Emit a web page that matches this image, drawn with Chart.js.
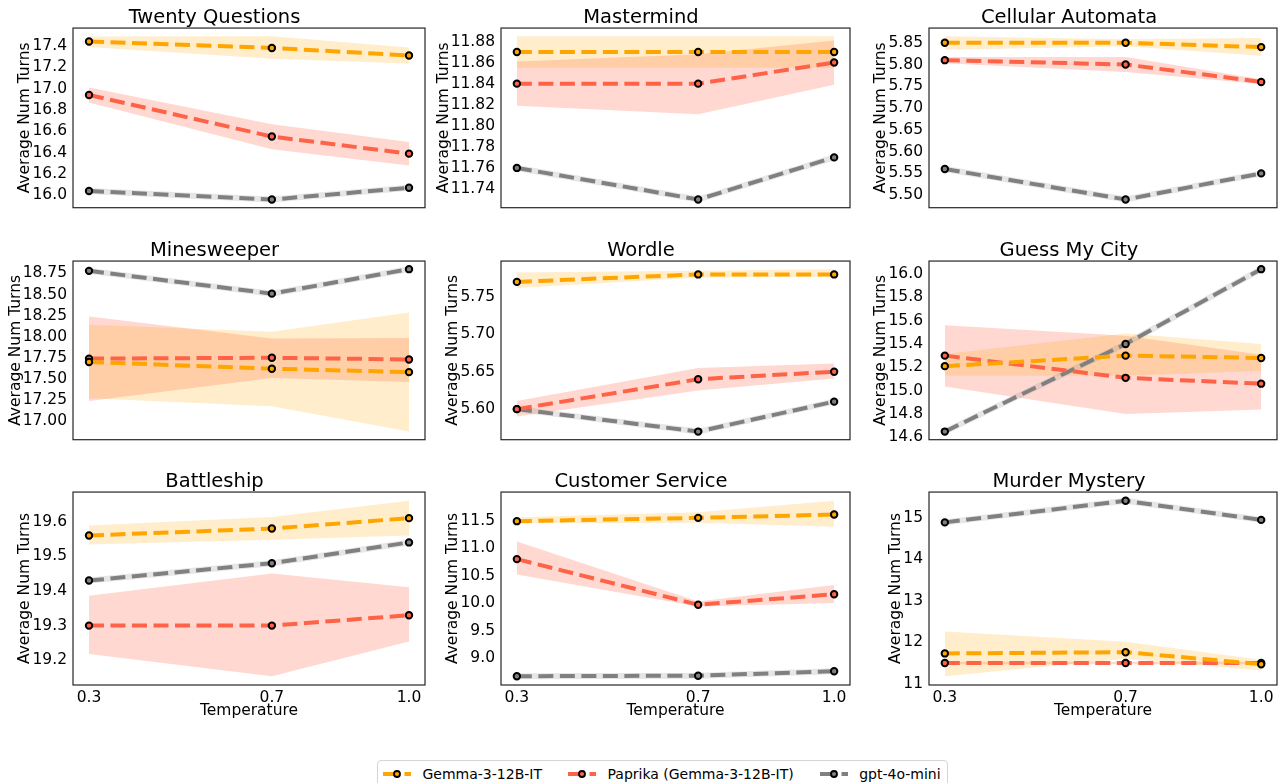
<!DOCTYPE html>
<html>
<head>
<meta charset="utf-8">
<script src="https://cdn.jsdelivr.net/npm/chart.js@4.4.1/dist/chart.umd.min.js"></script>
<style>
  body { margin: 0; background: #fff; width: 1283px; height: 783px; position: relative; overflow: hidden; font-family: "DejaVu Sans", sans-serif; }
  canvas { position: absolute; }
  #legend { position: absolute; left: 377px; top: 760px; height: 25px; border: 1px solid #d4d4d4; border-radius: 4px;
            padding: 0 6px 0 5px; display: flex; align-items: center; font-size: 14px; color: #000; background: #fff; }
  .item { display: flex; align-items: center; margin-right: 26px; }
  .item:last-child { margin-right: 0; }
  .item svg { margin-right: 11.5px; }
</style>
</head>
<body>
<div id="legend"></div>
<script>
// x values shared by every panel
const temperatures = [0.3, 0.7, 1.0];

const games = ['Twenty Questions', 'Mastermind', 'Cellular Automata',
               'Minesweeper', 'Wordle', 'Guess My City',
               'Battleship', 'Customer Service', 'Murder Mystery'];

// Gemma-3-12B-IT
const gemmaMean = [
    [17.44, 17.38, 17.31], [11.87, 11.87, 11.87], [5.85, 5.85, 5.84],
    [17.70, 17.62, 17.58], [5.77, 5.78, 5.78], [15.21, 15.30, 15.28],
    [19.56, 19.58, 19.61], [11.49, 11.55, 11.61], [11.73, 11.76, 11.47]
];
const gemmaLo = [
    [17.39, 17.28, 17.235], [11.855, 11.855, 11.855], [5.834, 5.842, 5.820],
    [17.27, 17.175, 16.875], [5.762, 5.776, 5.777], [15.128, 15.128, 15.168],
    [19.534, 19.548, 19.56], [11.45, 11.46, 11.39], [11.18, 11.60, 11.32]
];
const gemmaHi = [
    [17.487, 17.49, 17.385], [11.885, 11.885, 11.885], [5.865, 5.858, 5.861],
    [18.14, 18.057, 18.287], [5.7825, 5.785, 5.787], [15.313, 15.49, 15.40],
    [19.589, 19.613, 19.66], [11.56, 11.65, 11.86], [12.26, 12.01, 11.58]
];

// Paprika (Gemma-3-12B-IT)
const paprikaMean = [
    [16.94, 16.55, 16.39], [11.84, 11.84, 11.86], [5.81, 5.80, 5.76],
    [17.74, 17.75, 17.73], [5.60, 5.64, 5.65], [15.30, 15.11, 15.06],
    [19.30, 19.30, 19.33], [10.80, 9.97, 10.16], [11.50, 11.50, 11.50]
];
const paprikaLo = [
    [16.87, 16.43, 16.28], [11.819, 11.811, 11.839], [5.803, 5.783, 5.755],
    [17.237, 17.51, 17.463], [5.59, 5.625, 5.641], [15.036, 14.80, 14.84],
    [19.218, 19.154, 19.254], [10.52, 9.94, 10.00], [11.47, 11.47, 11.47]
];
const paprikaHi = [
    [17.01, 16.665, 16.50], [11.861, 11.868, 11.881], [5.817, 5.817, 5.766],
    [18.24, 17.977, 17.984], [5.611, 5.655, 5.661], [15.559, 15.47, 15.308],
    [19.386, 19.45, 19.411], [11.12, 10.03, 10.33], [11.53, 11.53, 11.53]
];

// gpt-4o-mini
const gptMean = [
    [16.04, 15.96, 16.07], [11.76, 11.73, 11.77], [5.56, 5.49, 5.55],
    [18.78, 18.51, 18.80], [5.60, 5.57, 5.61], [14.65, 15.40, 16.04],
    [19.43, 19.48, 19.54], [8.67, 8.68, 8.76], [14.89, 15.41, 14.95]
];

const yTickLabels = [
    ['16.0', '16.2', '16.4', '16.6', '16.8', '17.0', '17.2', '17.4'],
    ['11.74', '11.76', '11.78', '11.80', '11.82', '11.84', '11.86', '11.88'],
    ['5.50', '5.55', '5.60', '5.65', '5.70', '5.75', '5.80', '5.85'],
    ['17.00', '17.25', '17.50', '17.75', '18.00', '18.25', '18.50', '18.75'],
    ['5.60', '5.65', '5.70', '5.75'],
    ['14.6', '14.8', '15.0', '15.2', '15.4', '15.6', '15.8', '16.0'],
    ['19.2', '19.3', '19.4', '19.5', '19.6'],
    ['9.0', '9.5', '10.0', '10.5', '11.0', '11.5'],
    ['11', '12', '13', '14', '15']
];

const seriesNames = ['Gemma-3-12B-IT', 'Paprika (Gemma-3-12B-IT)', 'gpt-4o-mini'];
const FONT = 'DejaVu Sans';
const ORANGE = '#ffa500', RED = '#ff6347', GRAY = '#808080';
const DASH = [15, 6.5];

// canvas placement: [left, width, right padding] per column, [top, height, bottom padding] per row
const cols = [[0, 431, 2], [428, 428, 2], [856, 427, 1]];
const rows = [[0, 223, 2], [233, 222, 2], [464, 261, 0]];

const framePlugin = {
    id: 'frame',
    afterDatasetsDraw(chart) {
        const { ctx, chartArea: a } = chart;
        ctx.save();
        ctx.strokeStyle = '#262626';
        ctx.lineWidth = 1.2;
        ctx.strokeRect(a.left, a.top, a.width, a.height);
        ctx.restore();
    }
};

// y label placed just left of the widest tick label, like matplotlib
const yTitlePlugin = {
    id: 'ytitle',
    afterDraw(chart) {
        const { ctx, chartArea: a } = chart;
        const labels = chart.scales.y.ticks.map(t => t.label);
        ctx.save();
        ctx.font = '15.5px "' + FONT + '"';
        const w = Math.max(...labels.map(l => ctx.measureText(l).width));
        const x = a.left - 6 - w - 3;
        ctx.translate(x, (a.top + a.bottom) / 2);
        ctx.rotate(-Math.PI / 2);
        ctx.fillStyle = '#000';
        ctx.textAlign = 'center';
        ctx.textBaseline = 'alphabetic';
        ctx.fillText('Average Num Turns', 0, 0);
        ctx.restore();
    }
};

function meanLine(data, color, order) {
    return {
        data: data, borderColor: color, borderWidth: 4, borderDash: DASH, borderCapStyle: 'butt',
        pointRadius: 3.2, pointBorderWidth: 2, pointBorderColor: '#000', pointBackgroundColor: color,
        fill: false, order: order
    };
}

function band(lo, hi, colour, loIndex) {
    return [
        { data: lo, borderWidth: 0, pointRadius: 0, fill: false, order: 5 },
        { data: hi, borderWidth: 0, pointRadius: 0, fill: { target: loIndex }, backgroundColor: colour, order: 5 }
    ];
}

function xy(vals) {
    return vals.map((v, k) => ({ x: temperatures[k], y: v }));
}

games.forEach((game, i) => {
    const r = Math.floor(i / 3), c = i % 3;
    const canvas = document.createElement('canvas');
    canvas.width = cols[c][1];
    canvas.height = rows[r][1];
    canvas.style.left = cols[c][0] + 'px';
    canvas.style.top = rows[r][0] + 'px';
    document.body.appendChild(canvas);

    const all = [].concat(gemmaLo[i], gemmaHi[i], paprikaLo[i], paprikaHi[i], gemmaMean[i], paprikaMean[i], gptMean[i]);
    const lo = Math.min(...all), hi = Math.max(...all);
    const pad = (hi - lo) * 0.05;
    const bottomRow = r === 2;

    const datasets = [
        meanLine(xy(gemmaMean[i]), ORANGE, 0),
        meanLine(xy(paprikaMean[i]), RED, 0),
        meanLine(xy(gptMean[i]), GRAY, 0),
        { data: xy(gptMean[i]), borderColor: 'rgba(128,128,128,0.2)', borderWidth: 6, pointRadius: 0, fill: false, order: 1 }
    ];
    datasets.push(...band(xy(gemmaLo[i]), xy(gemmaHi[i]), 'rgba(255,165,0,0.2)', 4));
    datasets.push(...band(xy(paprikaLo[i]), xy(paprikaHi[i]), 'rgba(255,99,71,0.25)', 6));

    new Chart(canvas, {
        type: 'line',
        data: { datasets: datasets },
        options: {
            responsive: false,
            animation: false,
            devicePixelRatio: 1,
            layout: { padding: { left: 0, top: 0, right: cols[c][2], bottom: rows[r][2] } },
            plugins: {
                legend: { display: false },
                tooltip: { enabled: false },
                title: {
                    display: true, text: game, color: '#000',
                    font: { family: FONT, size: 19.5, weight: 'normal', lineHeight: 0.9 },
                    padding: { top: 9.5, bottom: 1 }
                }
            },
            elements: { line: { tension: 0 } },
            scales: {
                x: {
                    type: 'linear',
                    display: bottomRow,
                    min: 0.265, max: 1.035,
                    afterBuildTicks: s => { s.ticks = temperatures.map(v => ({ value: v })); },
                    afterFit: s => { if (bottomRow) s.height = 40; },
                    grid: { display: false, drawTicks: false },
                    border: { display: false },
                    ticks: {
                        autoSkip: false, maxRotation: 0, padding: 4, color: '#000',
                        font: { family: FONT, size: 15.5 },
                        callback: v => v.toFixed(1)
                    },
                    title: {
                        display: true, text: 'Temperature', color: '#000',
                        font: { family: FONT, size: 15.5 },
                        padding: { top: 0, bottom: 4.5 }
                    }
                },
                y: {
                    type: 'linear',
                    min: lo - pad, max: hi + pad,
                    afterBuildTicks: s => { s.ticks = yTickLabels[i].map(t => ({ value: parseFloat(t) })); },
                    afterFit: s => { s.width = 73; },
                    grid: { display: false, drawTicks: false },
                    border: { display: false },
                    ticks: {
                        autoSkip: false, padding: 6, color: '#000',
                        font: { family: FONT, size: 15.5 },
                        callback: (v, k) => yTickLabels[i][k]
                    }
                }
            }
        },
        plugins: [framePlugin, yTitlePlugin]
    });
});

// shared legend under the grid
const legend = document.getElementById('legend');
[ORANGE, RED, GRAY].forEach((colour, k) => {
    const item = document.createElement('div');
    item.className = 'item';
    item.innerHTML =
        '<svg width="28" height="12"><line x1="0" y1="6" x2="28" y2="6" stroke="' + colour +
        '" stroke-width="4" stroke-dasharray="' + DASH.join(' ') + '"/>' +
        '<circle cx="14" cy="6" r="3" fill="' + colour + '" stroke="#000" stroke-width="1.8"/></svg>' +
        '<span>' + seriesNames[k] + '</span>';
    legend.appendChild(item);
});
</script>
</body>
</html>
